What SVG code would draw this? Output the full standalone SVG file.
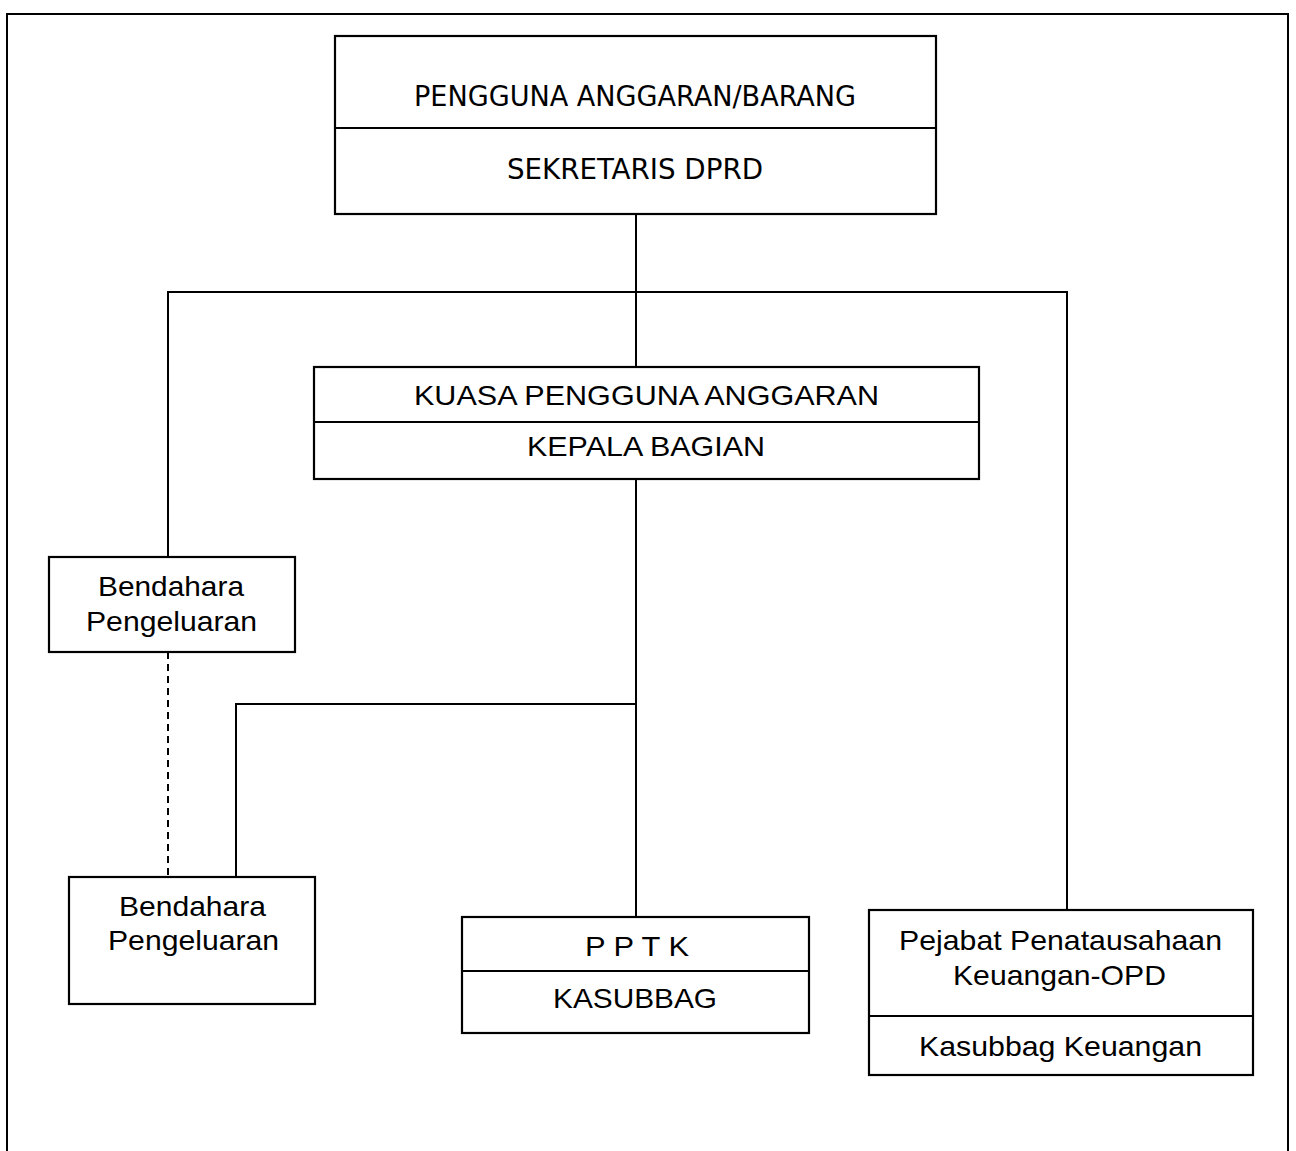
<svg xmlns="http://www.w3.org/2000/svg" width="1296" height="1151" viewBox="0 0 1296 1151">
<style>
.box{fill:none;stroke:#000;stroke-width:2.2}
.ln{fill:none;stroke:#000;stroke-width:2}
.dash{fill:none;stroke:#000;stroke-width:2;stroke-dasharray:7,5}
.t{font-family:"Liberation Sans",Arial,sans-serif;font-size:28px;fill:#000;text-anchor:start}
.th{font-family:"DejaVu Sans Condensed","DejaVu Sans",sans-serif;font-size:28px;fill:#000;text-anchor:start}
</style>
<rect width="1296" height="1151" fill="#fff"/>
<path class="ln" d="M7,1151 V14 H1288 V1151"/>
<g id="connectors">
<path class="ln" d="M636,214 V367"/>
<path class="ln" d="M168,557 V292 H1067 V910"/>
<path class="ln" d="M636,479 V917"/>
<path class="ln" d="M236,877 V704 H636"/>
<path class="dash" d="M168,652 V877"/>
</g>
<g id="pengguna-anggaran">
<rect class="box" x="335" y="36" width="601" height="178"/>
<line class="ln" x1="335" y1="128" x2="936" y2="128"/>
<text class="th" x="414" y="106" textLength="442" lengthAdjust="spacingAndGlyphs">PENGGUNA ANGGARAN/BARANG</text>
<text class="th" x="507" y="179" textLength="256" lengthAdjust="spacingAndGlyphs">SEKRETARIS DPRD</text>
</g>
<g id="kuasa-pengguna">
<rect class="box" x="314" y="367" width="665" height="112"/>
<line class="ln" x1="314" y1="422" x2="979" y2="422"/>
<text class="t" x="414" y="405" textLength="465" lengthAdjust="spacingAndGlyphs">KUASA PENGGUNA ANGGARAN</text>
<text class="t" x="527" y="456" textLength="238" lengthAdjust="spacingAndGlyphs">KEPALA BAGIAN</text>
</g>
<g id="bendahara-1">
<rect class="box" x="49" y="557" width="246" height="95"/>
<text class="t" x="98" y="596" textLength="146" lengthAdjust="spacingAndGlyphs">Bendahara</text>
<text class="t" x="86" y="631" textLength="171" lengthAdjust="spacingAndGlyphs">Pengeluaran</text>
</g>
<g id="bendahara-2">
<rect class="box" x="69" y="877" width="246" height="127"/>
<text class="t" x="119" y="916" textLength="147" lengthAdjust="spacingAndGlyphs">Bendahara</text>
<text class="t" x="108" y="950" textLength="171" lengthAdjust="spacingAndGlyphs">Pengeluaran</text>
</g>
<g id="pptk">
<rect class="box" x="462" y="917" width="347" height="116"/>
<line class="ln" x1="462" y1="971" x2="809" y2="971"/>
<text class="t" x="585" y="956" textLength="104" lengthAdjust="spacingAndGlyphs">P P T K</text>
<text class="t" x="553" y="1008" textLength="164" lengthAdjust="spacingAndGlyphs">KASUBBAG</text>
</g>
<g id="pejabat-penatausahaan">
<rect class="box" x="869" y="910" width="384" height="165"/>
<line class="ln" x1="869" y1="1016" x2="1253" y2="1016"/>
<text class="t" x="899" y="950" textLength="323" lengthAdjust="spacingAndGlyphs">Pejabat Penatausahaan</text>
<text class="t" x="953" y="985" textLength="213" lengthAdjust="spacingAndGlyphs">Keuangan-OPD</text>
<text class="t" x="919" y="1056" textLength="283" lengthAdjust="spacingAndGlyphs">Kasubbag Keuangan</text>
</g>
</svg>
